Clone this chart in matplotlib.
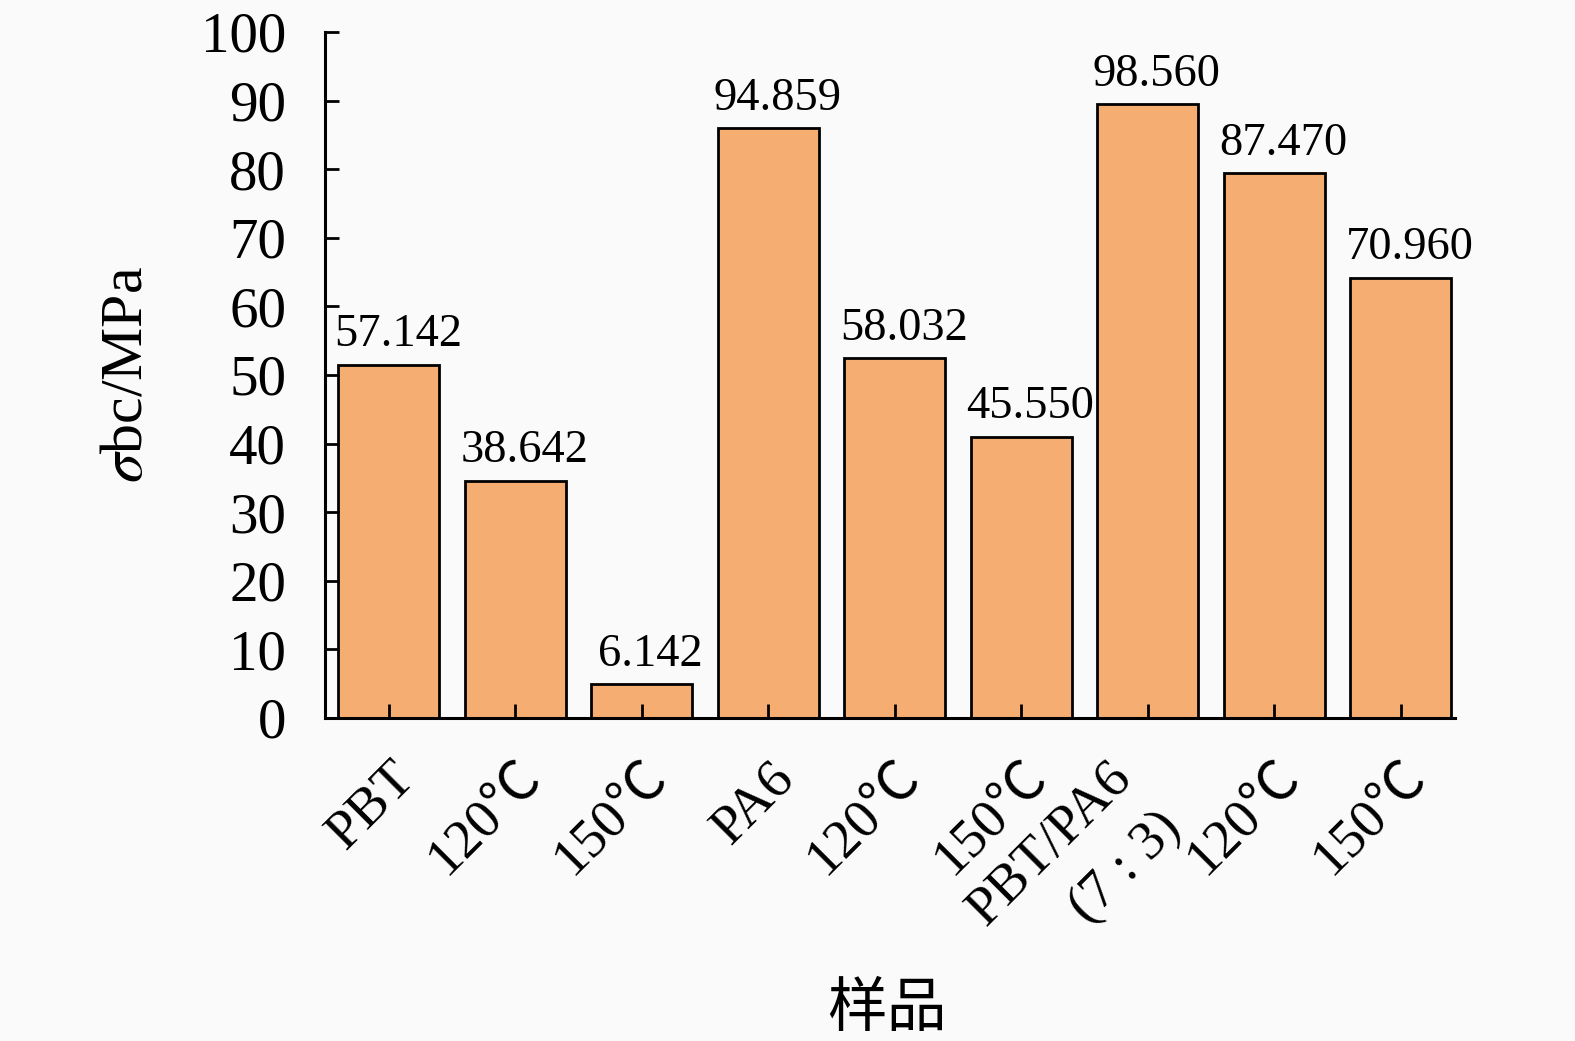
import matplotlib.pyplot as plt
import matplotlib.transforms as mtransforms

plt.rcParams['font.family'] = ['Liberation Serif', 'Noto Sans CJK SC', 'DejaVu Sans']
plt.rcParams['mathtext.fontset'] = 'stix'

# samples, bar heights (as drawn) and printed value labels
samples = ['PBT', '120℃', '150℃', 'PA6', '120℃', '150℃', 'PBT/PA6\n(7 : 3)', '120℃', '150℃']
heights = [51.5, 34.6, 4.9, 86.0, 52.5, 41.0, 89.5, 79.4, 64.2]
labels = ['57.142', '38.642', '6.142', '94.859', '58.032', '45.550', '98.560', '87.470', '70.960']

fig = plt.figure(figsize=(15.75, 10.41), dpi=100, facecolor='#fafafa')
ax = fig.add_axes([0.2063, 0.3103, 0.7175, 0.659])
ax.set_facecolor('#fafafa')

x = list(range(len(samples)))
ax.bar(x, heights, width=0.8, color='#f6ad72', edgecolor='black', linewidth=2)

lab_shift = mtransforms.ScaledTranslation(0.09, 0, fig.dpi_scale_trans)
for xi, h, lab in zip(x, heights, labels):
    ax.text(xi, h + 1.2, lab, ha='center', va='bottom', fontsize=33.5,
            transform=ax.transData + lab_shift)

ax.set_xlim(-0.506, 8.43)
ax.set_ylim(0, 100)
ax.set_yticks(range(0, 101, 10))
ax.tick_params(axis='y', direction='in', length=10, width=2, labelsize=41, pad=28)
ax.tick_params(axis='x', direction='in', length=10, width=2, labelsize=39.5, pad=25)
ax.set_xticks(x)
ax.set_xticklabels(samples, rotation=45, ha='right', rotation_mode='anchor',
                   linespacing=1.5)
for t in ax.get_xticklabels():
    dx = 0.0
    if '\n' in t.get_text():
        dx = -0.42
    t.set_transform(t.get_transform() + mtransforms.ScaledTranslation(dx, 0, fig.dpi_scale_trans))

for s in ['top', 'right']:
    ax.spines[s].set_visible(False)
for s in ['left', 'bottom']:
    ax.spines[s].set_linewidth(2.2)

ax.set_ylabel(r'$\sigma$bc/MPa', fontsize=43)
ax.yaxis.set_label_coords(-0.15, 0.5)
fig.text(0.563, 0.03, '样品', ha='center', va='center', fontsize=43,
         family=['Noto Sans CJK SC'])

plt.savefig('out.png', dpi=100, facecolor=fig.get_facecolor())
